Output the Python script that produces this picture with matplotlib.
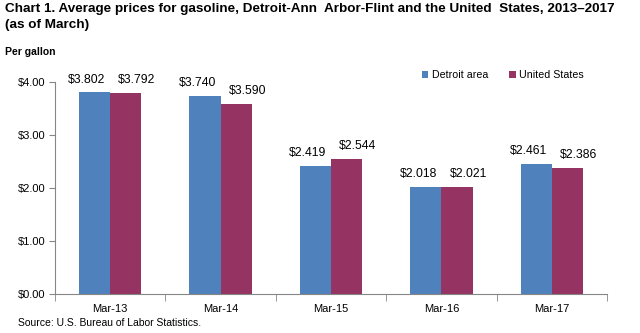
import numpy as np
import matplotlib
matplotlib.use("Agg")
from matplotlib import pyplot as plt

categories = ["Mar-13", "Mar-14", "Mar-15", "Mar-16", "Mar-17"]
detroit = [3.802, 3.740, 2.419, 2.018, 2.461]
us = [3.792, 3.590, 2.544, 2.021, 2.386]
series_names = ["Detroit area", "United States"]
yticks = [0, 1, 2, 3, 4]

BLUE = "#4f81bd"
PURPLE = "#953462"
FONT = ["Liberation Sans", "DejaVu Sans"]

fig = plt.figure(figsize=(6.4, 3.33), dpi=100)
ax = fig.add_axes([55 / 640, 1 - 294 / 333, 552 / 640, 212 / 333])

x = np.arange(len(categories))
w = 0.282
b1 = ax.bar(x - w / 2, detroit, w, color=BLUE, label=series_names[0])
b2 = ax.bar(x + w / 2, us, w, color=PURPLE, label=series_names[1])

# data labels, nudged apart the way Excel places them
for rects, vals, dx in ((b1, detroit, -5.5), (b2, us, 8)):
    for r, v in zip(rects, vals):
        ax.annotate("$%.3f" % v, (r.get_x() + r.get_width() / 2, v),
                    xytext=(dx, 5), textcoords="offset points",
                    ha="center", va="bottom", fontsize=8.8, family=FONT)

ax.set_xlim(-0.5, len(categories) - 0.5)
ax.set_ylim(0, 4)
ax.set_yticks(yticks)
ax.set_yticklabels(["$%.2f" % t for t in yticks], family=FONT, fontsize=8)
ax.set_xticks(x)
ax.set_xticklabels(categories, family=FONT, fontsize=8)
ax.tick_params(axis="x", length=0, pad=7)
ax.set_xticks(np.arange(-0.5, len(categories)), minor=True)
ax.tick_params(axis="x", which="minor", length=5, color="#868686")
ax.tick_params(axis="y", length=4, color="#868686", pad=3)
for s in ("top", "right"):
    ax.spines[s].set_visible(False)
for s in ("left", "bottom"):
    ax.spines[s].set_color("#868686")

fig.legend(loc="center left", bbox_to_anchor=(422 / 640, 1 - 75 / 333), ncol=2,
           frameon=False, prop={"family": FONT, "size": 7.7}, handlelength=0.6,
           handleheight=0.6, handletextpad=0.3, columnspacing=2.0,
           borderaxespad=0, borderpad=0)

fig.text(5 / 640, 1 - 3 / 333,
         "Chart 1. Average prices for gasoline, Detroit-Ann  Arbor-Flint and the United  States, 2013\u20132017\n(as of March)",
         ha="left", va="top", fontsize=9.7, fontweight="bold", family=FONT, linespacing=1.4)
fig.text(5 / 640, 1 - 47 / 333, "Per gallon", ha="left", va="top", fontsize=7.5,
         fontweight="bold", family=FONT)
fig.text(18 / 640, 1 - 318 / 333, "Source: U.S. Bureau of Labor Statistics.", ha="left",
         va="top", fontsize=7.5, family=FONT)

fig.savefig("out.png", dpi=100)
